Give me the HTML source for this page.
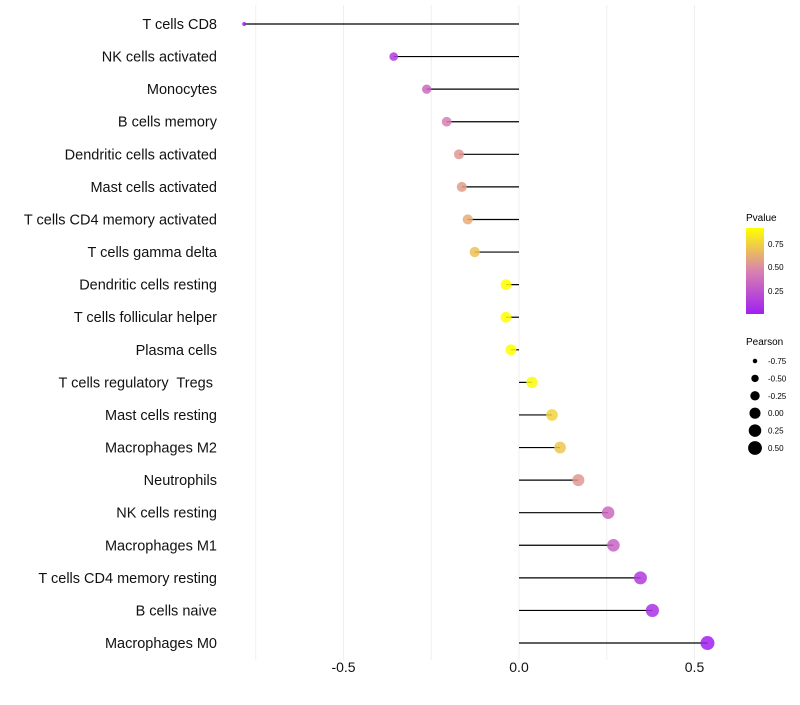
<!DOCTYPE html>
<html><head><meta charset="utf-8"><style>
body{margin:0;background:#fff;font-family:"Liberation Sans",sans-serif}
text{white-space:pre}
</style></head><body>
<svg id="chart" width="800" height="700" xmlns="http://www.w3.org/2000/svg">
<g id="grid"></g><g id="marks"></g><g id="ylabels"></g><g id="xlabels"></g>
<g id="legend">
<defs><linearGradient id="pg" x1="0" y1="1" x2="0" y2="0">
<stop offset="0" stop-color="#a020f0"/><stop offset="0.5" stop-color="#d982b0"/><stop offset="1" stop-color="#ffff00"/></linearGradient></defs>
<text x="746" y="221" font-size="10">Pvalue</text>
<rect x="746" y="228" width="18" height="86" fill="url(#pg)"/>
<text x="768" y="247" font-size="8">0.75</text>
<text x="768" y="270" font-size="8">0.50</text>
<text x="768" y="294" font-size="8">0.25</text>
<text x="746" y="345" font-size="10">Pearson</text>
</g>
</svg>
<script>
const categories=["T cells CD8","NK cells activated","Monocytes","B cells memory","Dendritic cells activated","Mast cells activated","T cells CD4 memory activated","T cells gamma delta","Dendritic cells resting","T cells follicular helper","Plasma cells","T cells regulatory  Tregs ","Mast cells resting","Macrophages M2","Neutrophils","NK cells resting","Macrophages M1","T cells CD4 memory resting","B cells naive","Macrophages M0"];
const pearson=[-0.783,-0.357,-0.263,-0.206,-0.171,-0.163,-0.146,-0.126,-0.037,-0.037,-0.023,0.037,0.094,0.117,0.169,0.254,0.269,0.346,0.380,0.537];
const pvalue=[0.02,0.15,0.35,0.45,0.55,0.57,0.62,0.70,0.92,0.92,0.92,0.90,0.76,0.72,0.55,0.36,0.33,0.15,0.10,0.02];
const xTicks=[-0.5,0,0.5];
const xTickLabels=["-0.5","0.0","0.5"];
const gridVals=[-0.75,-0.5,-0.25,0,0.25,0.5];
const sizeLegend=[-0.75,-0.5,-0.25,0,0.25,0.5];
const sizeLegendLabels=["-0.75","-0.50","-0.25","0.00","0.25","0.50"];
const NS="http://www.w3.org/2000/svg";
const xS=v=>519+v*351;
const yS=i=>24+i*32.58;
const rS=v=>Math.sqrt(4+(v+0.78)/1.32*45);
function col(p){
 const t=Math.max(0,Math.min(1,(p-0.02)/0.9));
 const a=[160,32,240],m=[217,130,176],b=[255,255,0];
 let c;
 if(t<0.5){const u=t/0.5;c=a.map((x,k)=>x+(m[k]-x)*u);}else{const u=(t-0.5)/0.5;c=m.map((x,k)=>x+(b[k]-x)*u);}
 return `rgb(${c.map(Math.round).join(',')})`;
}
function mk(tag,attrs,parent){const e=document.createElementNS(NS,tag);for(const k in attrs)e.setAttribute(k,attrs[k]);parent.appendChild(e);return e;}
const grid=document.getElementById('grid'),marks=document.getElementById('marks'),yl=document.getElementById('ylabels'),xl=document.getElementById('xlabels'),leg=document.getElementById('legend');
gridVals.forEach(v=>{
 const l=mk('line',{x1:xS(v),x2:xS(v),y1:5,y2:660,stroke:'#efefef','stroke-width':1},grid);
 
 
});
categories.forEach((c,i)=>{
 const y=yS(i);
 const s=mk('line',{x1:xS(0),x2:xS(pearson[i]),y1:y,y2:y,stroke:'#000','stroke-width':1.2},marks);
 
 
 const p=mk('circle',{cx:xS(pearson[i]),cy:y,r:rS(pearson[i]),fill:col(pvalue[i]),'fill-opacity':0.85},marks);
 
 
 const t=mk('text',{x:217,y:y+5,'text-anchor':'end','font-size':14.5,fill:'#111'},yl);
 t.textContent=c;
 
 
});
xTicks.forEach((v,i)=>{
 const t=mk('text',{x:xS(v),y:672,'text-anchor':'middle','font-size':14,fill:'#111'},xl);
 t.textContent=xTickLabels[i];
 
 
});
sizeLegend.forEach((v,i)=>{
 const y=361+i*17.4;
 const c=mk('circle',{cx:755,cy:y,r:rS(v),fill:'#000'},leg);
 
 
 const t=mk('text',{x:768,y:y+3,'font-size':8},leg);
 t.textContent=sizeLegendLabels[i];
 
 
});
</script>
</body></html>
